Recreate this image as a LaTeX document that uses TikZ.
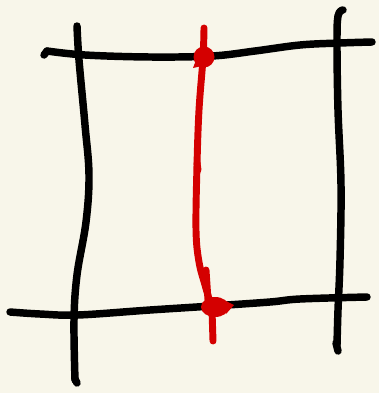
\documentclass[tikz,border=0pt]{standalone}
\usetikzlibrary{backgrounds}
\definecolor{paper}{HTML}{F8F6EA}
\definecolor{redpen}{HTML}{D40000}

\begin{document}
\begin{tikzpicture}[x=0.75pt, y=-0.75pt]

\tikzset{
  ink/.style={draw=black, line width=5.6pt, line cap=round, line join=round},
  redink/.style={draw=redpen, line width=5.2pt, line cap=round, line join=round},
  blob/.style={fill=redpen}
}

% ==========================
% Paper
% ==========================
\fill[paper] (0,0) rectangle (379,393);
\useasboundingbox (0,0) rectangle (379,393);

% ==========================
% Black grid strokes
% ==========================
% left vertical
\draw[ink] plot[smooth, tension=0.6] coordinates
  {(77,26) (79,60) (85,125) (89,175) (86,222) (77,275) (74,320) (75,380)};
\draw[ink] (75,379) -- (77,383);
% right vertical
\draw[ink] plot[smooth, tension=0.6] coordinates
  {(343,10) (338,16) (337,45) (338,110) (341,185) (340,260) (338,310) (337,345)};
\draw[ink] (336,343) -- (338,351);
% top horizontal
\draw[ink] (44,55) -- (47,51);
\draw[ink] plot[smooth, tension=0.6] coordinates
  {(47,51) (85,55) (150,57) (212,56) (255,51) (300,45) (340,43) (372,42)};
% bottom horizontal
\draw[ink] plot[smooth, tension=0.6] coordinates
  {(10,312) (40,314) (78,315) (150,310) (212,306) (270,302) (300,299) (367,297)};

% ==========================
% Red stroke and blobs
% ==========================
\draw[redink] plot[smooth, tension=0.6] coordinates
  {(204,28) (203,58) (199,110) (197,165) (196,230) (199,262) (205,285) (210,302)};
\draw[redink] (197,163) -- (198,170);
\draw[redink] (206,270) -- (208,300);
\draw[redink] (212,310) -- (213,341);

\fill[blob] (204,57) circle[radius=10.5];
\fill[blob] (196,60) -- (193,68) -- (202,66) -- cycle;
\fill[blob] (215,307) ellipse[x radius=14, y radius=10];
\fill[blob] (224,300) -- (234,305) -- (226,314) -- cycle;

\end{tikzpicture}
\end{document}
